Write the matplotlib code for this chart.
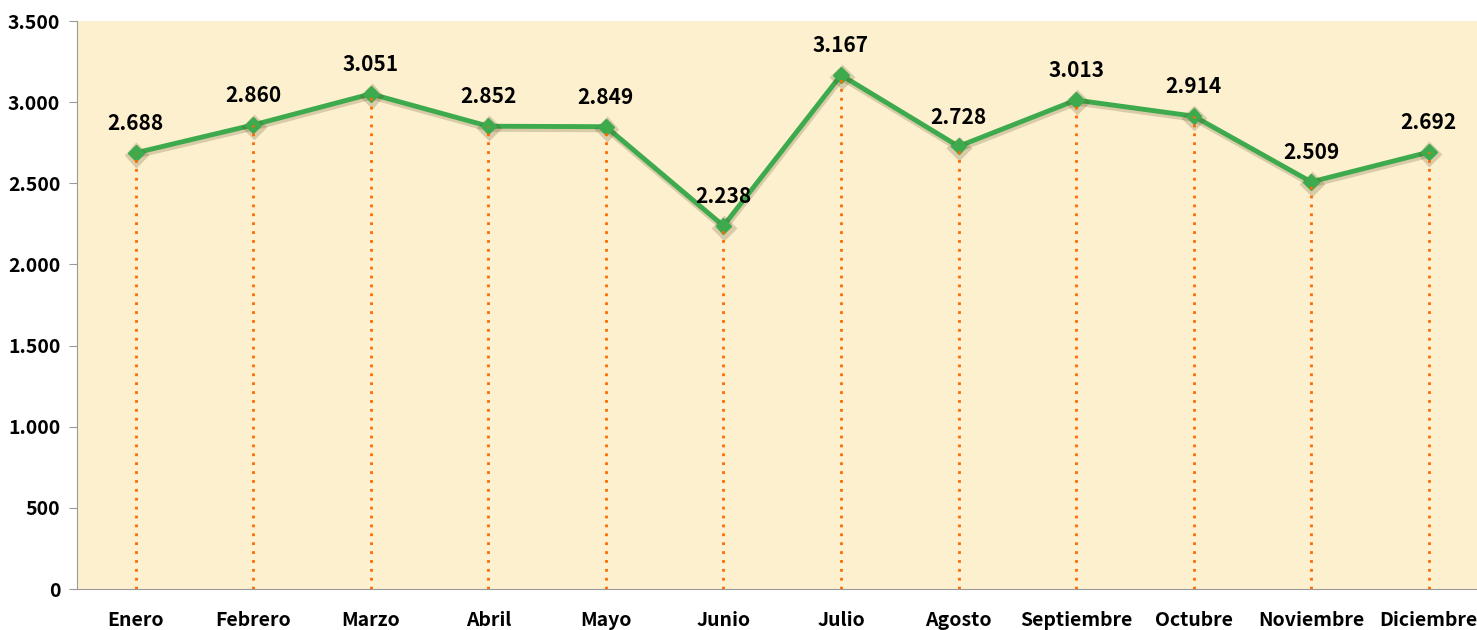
import matplotlib.pyplot as plt
import matplotlib.patheffects as pe
from matplotlib.ticker import FuncFormatter

meses = ["Enero", "Febrero", "Marzo", "Abril", "Mayo", "Junio", "Julio",
         "Agosto", "Septiembre", "Octubre", "Noviembre", "Diciembre"]
valores = [2688, 2860, 3051, 2852, 2849, 2238, 3167, 2728, 3013, 2914, 2509, 2692]
y_ticks = [0, 500, 1000, 1500, 2000, 2500, 3000, 3500]

plt.rcParams['font.family'] = ['Noto Sans CJK KR', 'DejaVu Sans']


def miles(v):
    return f"{int(v):,}".replace(",", ".")


fig = plt.figure(figsize=(14.77, 6.30), dpi=100)
ax = fig.add_axes([0.0521, 0.065, 0.955, 0.9016])
ax.set_facecolor("#FDF0CE")

x = list(range(len(meses)))

# lineas verticales punteadas hasta cada punto
ax.vlines(x, 0, valores, colors="#FF6A00", linestyles=(0, (1, 2.2)), lw=2, zorder=4)

ax.plot(x, valores, color="#3DAA4E", lw=3.5, marker="D", ms=8,
        markerfacecolor="#3DAA4E", markeredgecolor="#3DAA4E", zorder=3,
        path_effects=[pe.SimpleLineShadow(offset=(0.5, -1.5), shadow_color="#4a3a10", alpha=0.2,
                                          linewidth=5),
                      pe.Normal()])

for xi, v in zip(x, valores):
    ax.annotate(miles(v), (xi, v), xytext=(0, 13.5), textcoords="offset points",
                ha="center", va="bottom", fontsize=15, fontweight="bold", color="black")

ax.set_xlim(-0.5, len(meses) - 0.5)
ax.set_ylim(0, 3500)
ax.set_yticks(y_ticks)
ax.yaxis.set_major_formatter(FuncFormatter(lambda v, p: miles(v)))
ax.set_xticks(x)
ax.set_xticklabels(meses)

for lab in ax.get_xticklabels() + ax.get_yticklabels():
    lab.set_fontweight("bold")
    lab.set_fontsize(14)

ax.tick_params(axis="x", length=0, pad=16)
ax.tick_params(axis="y", length=6, color="#9a9a9a", pad=6)

ax.spines["top"].set_visible(False)
ax.spines["right"].set_visible(False)
ax.spines["left"].set_color("#9a9a9a")
ax.spines["bottom"].set_color("#9a9a9a")

plt.savefig("out.png", dpi=100)
